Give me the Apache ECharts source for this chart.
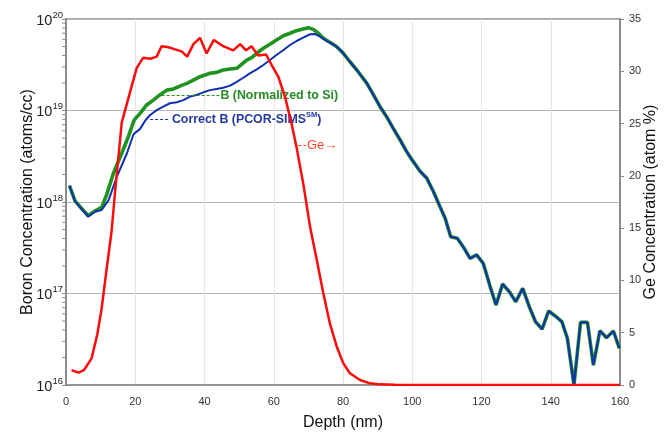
<!DOCTYPE html>
<html>
<head>
<meta charset="utf-8">
<script src="https://cdn.jsdelivr.net/npm/echarts@6/dist/echarts.min.js"></script>
<style>
html,body{margin:0;padding:0;background:#fff;}
#chart{width:668px;height:433px;}
</style>
</head>
<body>
<div id="chart"></div>
<script>
// ---- data ----
const depthGreenHead = [1.0,2.6,4.5,6.4,8.4,10.3,11.7,13.7,16.1,18.0,19.7,21.4,23.3,25.2,27.1,29.1,31.0,32.9,34.9,36.8,38.7,41.6,43.5,45.4,47.4,49.3,50.7,52.2,53.6,55.1,57.0,58.9,60.8,62.8,64.7,66.6,68.5,70.0,71.4,72.9,74.3,76.2];
const boronNormHead = [1.51e18,1.03e18,8.5e17,7.1e17,8.0e17,8.75e17,1.19e18,2.06e18,3.41e18,5.17e18,7.9e18,9.3e18,1.15e19,1.30e19,1.48e19,1.67e19,1.72e19,1.85e19,1.98e19,2.15e19,2.34e19,2.55e19,2.61e19,2.77e19,2.84e19,2.89e19,3.20e19,3.56e19,3.78e19,4.22e19,4.79e19,5.29e19,5.89e19,6.56e19,6.98e19,7.45e19,7.78e19,8.04e19,7.71e19,6.98e19,6.15e19,5.56e19];

const depthBlueHead = [1.0,2.6,4.5,6.4,8.4,10.3,12.3,14.7,17.6,19.5,21.4,23.0,24.3,26.2,28.1,30.0,32.0,33.9,35.8,37.7,39.7,41.6,43.5,45.4,47.4,49.3,51.2,53.1,55.1,57.0,58.9,60.8,62.8,64.7,66.6,68.5,70.5,71.9,73.4,75.3,77.2];
const boronCorrHead = [1.51e18,1.02e18,8.4e17,6.9e17,7.83e17,8.18e17,1.05e18,1.89e18,3.41e18,5.5e18,6.3e18,7.87e18,8.93e18,1.01e19,1.10e19,1.20e19,1.23e19,1.30e19,1.42e19,1.48e19,1.58e19,1.67e19,1.72e19,1.77e19,1.87e19,2.06e19,2.28e19,2.55e19,2.82e19,3.14e19,3.56e19,4.04e19,4.58e19,5.20e19,5.75e19,6.25e19,6.81e19,6.85e19,6.41e19,5.75e19,5.29e19];

const depthTail = [78.2,80.1,82.0,84.0,86.9,88.8,90.7,92.6,94.5,96.5,98.4,100.3,102.2,104.2,106.1,108.0,109.5,111.1,113.0,114.7,116.7,118.6,120.5,122.5,124.2,126.1,128.0,129.9,131.9,133.8,135.6,137.5,139.4,141.2,143.2,144.8,146.7,148.6,150.6,152.3,154.2,156.1,158.1,159.8];
const boronTail = [4.98e19,4.22e19,3.41e19,2.77e19,1.98e19,1.48e19,1.10e19,8.55e18,6.38e18,4.76e18,3.55e18,2.76e18,2.18e18,1.82e18,1.30e18,8.9e17,6.64e17,4.18e17,4.01e17,3.25e17,2.42e17,2.64e17,2.14e17,1.19e17,7.48e16,1.27e17,1.05e17,8.13e16,1.14e17,7.17e16,4.92e16,4.09e16,6.44e16,5.72e16,4.92e16,3.24e16,1.0e16,4.84e16,4.84e16,1.65e16,3.92e16,3.29e16,3.89e16,2.52e16];

const depthGe = [1.6,3.6,5.2,7.4,9.0,10.3,11.7,13.2,14.2,16.1,18.5,20.4,22.3,24.3,26.2,27.6,29.6,31.5,33.4,35.0,36.8,38.7,40.6,42.7,45.4,48.3,50.3,52.0,53.6,55.5,57.8,59.4,61.3,63.3,65.2,66.6,68.5,70.5,72.4,74.3,76.2,78.2,80.1,82.0,84.9,87.8,90.7,95.0,100.0,110.0,120.0,130.0,140.0,150.0,160.0];
const geConc = [1.43,1.18,1.43,2.55,4.78,7.33,11.0,14.8,18.6,25.1,28.0,30.3,31.3,31.2,31.4,32.4,32.3,32.1,31.9,31.4,32.6,33.2,31.7,33.0,32.4,32.0,32.6,32.0,32.4,31.5,31.6,30.6,29.5,27.5,24.9,22.7,19.3,15.1,12.0,8.8,5.9,3.66,2.07,1.12,0.48,0.16,0.06,0.02,0.01,0,0,0,0,0,0];

const xTickValues = [0,20,40,60,80,100,120,140,160];
const geTickValues = [0,5,10,15,20,25,30,35];

// ---- build series data ----
const pairs = (xs, ys) => xs.map((x, i) => [x, ys[i]]);
const greenData = pairs(depthGreenHead, boronNormHead).concat(pairs(depthTail, boronTail));
const blueData = pairs(depthBlueHead, boronCorrHead).concat(pairs(depthTail, boronTail));
const geData = pairs(depthGe, geConc);

// log-axis minor tick positions (2..9 within each decade) - axis decoration
const minorTicks = [];
for (let e = 16; e < 20; e++) for (let m = 2; m <= 9; m++) minorTicks.push([0, m * Math.pow(10, e)]);

const FONT = 'Liberation Sans, Arial, sans-serif';
const AXIS_GRAY = '#8c8c8c';
const GREEN = '#1f921f';
const BLUE = '#1030b0';
const RED = '#ff0a0a';

const chart = echarts.init(document.getElementById('chart'), null, {renderer: 'canvas'});
chart.setOption({
  animation: false,
  backgroundColor: '#ffffff',
  textStyle: {fontFamily: FONT},
  grid: {left: 66, right: 48, top: 19, bottom: 48, show: true, borderColor: AXIS_GRAY, borderWidth: 1.5,
    containLabel: false, outerBoundsMode: 'none'},
  xAxis: {
    type: 'value', min: 0, max: 160, interval: 20,
    name: 'Depth (nm)', nameLocation: 'middle', nameGap: 30, nameMoveOverlap: false,
    nameTextStyle: {fontSize: 16, color: '#111', fontFamily: FONT},
    axisLine: {show: true, lineStyle: {color: AXIS_GRAY, width: 1.5}},
    axisTick: {show: false},
    axisLabel: {fontSize: 11, color: '#333', margin: 11, fontFamily: FONT,
      customValues: xTickValues},
    splitLine: {show: true, lineStyle: {color: '#e6e6e6', width: 1}}
  },
  yAxis: [
    {
      type: 'log', logBase: 10, min: 1e16, max: 1e20, splitNumber: 4,
      name: 'Boron Concentration (atoms/cc)', nameLocation: 'middle', nameGap: 30, nameRotate: 90,
      nameMoveOverlap: false,
      nameTextStyle: {fontSize: 16, color: '#111', fontFamily: FONT},
      axisLine: {show: true, lineStyle: {color: AXIS_GRAY, width: 2}},
      axisTick: {show: true, length: 4, lineStyle: {color: AXIS_GRAY}},
      axisLabel: {
        margin: 3,
        formatter: function (v) {
          const e = Math.round(Math.log10(v));
          return '{b|10}{s|' + e + '}';
        },
        rich: {
          b: {fontSize: 14.5, color: '#222', fontFamily: FONT, lineHeight: 18, verticalAlign: 'bottom'},
          s: {fontSize: 9.5, color: '#222', fontFamily: FONT, lineHeight: 18, verticalAlign: 'top', padding: [0, 0, 8, 0]}
        }
      },
      splitLine: {show: true, lineStyle: {color: '#b4b4b4', width: 1}}
    },
    {
      type: 'value', min: 0, max: 35, interval: 5, position: 'right',
      name: 'Ge Concentration (atom %)', nameLocation: 'middle', nameGap: 23, nameRotate: 90,
      nameMoveOverlap: false,
      nameTextStyle: {fontSize: 16, color: '#111', fontFamily: FONT},
      axisLine: {show: true, lineStyle: {color: AXIS_GRAY, width: 2}},
      axisTick: {show: true, length: 4, lineStyle: {color: AXIS_GRAY}},
      axisLabel: {fontSize: 11, color: '#333', margin: 9, fontFamily: FONT, customValues: geTickValues},
      splitLine: {show: false}
    }
  ],
  series: [
    {
      name: 'minorTicks', type: 'custom', yAxisIndex: 0, clip: false, silent: true, z: 1,
      data: minorTicks,
      renderItem: function (params, api) {
        const p = api.coord([api.value(0), api.value(1)]);
        return {type: 'line', shape: {x1: p[0] - 4, y1: p[1], x2: p[0], y2: p[1]},
          style: {stroke: AXIS_GRAY, lineWidth: 1}};
      }
    },
    {
      name: 'B (Normalized to Si)', type: 'line', yAxisIndex: 0, data: greenData,
      showSymbol: false, symbol: 'none', lineStyle: {color: GREEN, width: 3.6}, z: 3,
      markLine: {
        silent: true, symbol: ['none', 'none'], animation: false,
        lineStyle: {type: [3, 2], width: 1, color: GREEN},
        label: {show: true, position: 'end', distance: 1, color: '#268c26', fontWeight: 'bold',
          fontSize: 12.4, fontFamily: FONT, formatter: 'B (Normalized to Si)'},
        data: [[{coord: [27.6, 1.45e19]}, {coord: [44.3, 1.45e19]}]]
      }
    },
    {
      name: 'Correct B (PCOR-SIMS)', type: 'line', yAxisIndex: 0, data: blueData,
      showSymbol: false, symbol: 'none', lineStyle: {color: BLUE, width: 2.0}, z: 4,
      markLine: {
        silent: true, symbol: ['none', 'none'], animation: false,
        lineStyle: {type: [3, 2], width: 1, color: BLUE},
        label: {show: true, position: 'end', distance: 2,
          formatter: '{a|Correct B (PCOR-SIMS}{s|SM}{a|)}',
          rich: {
            a: {color: '#23399e', fontWeight: 'bold', fontSize: 12.4, fontFamily: FONT, lineHeight: 16},
            s: {color: '#23399e', fontWeight: 'bold', fontSize: 7.5, fontFamily: FONT, lineHeight: 16, verticalAlign: 'top', padding: [0, 0, 6, 0]}
          }},
        data: [[{coord: [24.3, 8.0e18]}, {coord: [30.0, 8.0e18]}]]
      }
    },
    {
      name: 'Ge', type: 'line', yAxisIndex: 1, data: geData,
      showSymbol: false, symbol: 'none', lineStyle: {color: RED, width: 2.5}, z: 5,
      markLine: {
        silent: true, symbol: ['none', 'none'], animation: false,
        lineStyle: {type: [3, 2], width: 1, color: '#ff4a2a'},
        label: {show: true, position: 'end', distance: 1, color: '#ff4a2a',
          fontSize: 13, fontFamily: FONT, formatter: 'Ge\u2192'},
        data: [[{coord: [67.1, 22.95]}, {coord: [69.3, 22.95]}]]
      }
    }
  ]
});
</script>
</body>
</html>
